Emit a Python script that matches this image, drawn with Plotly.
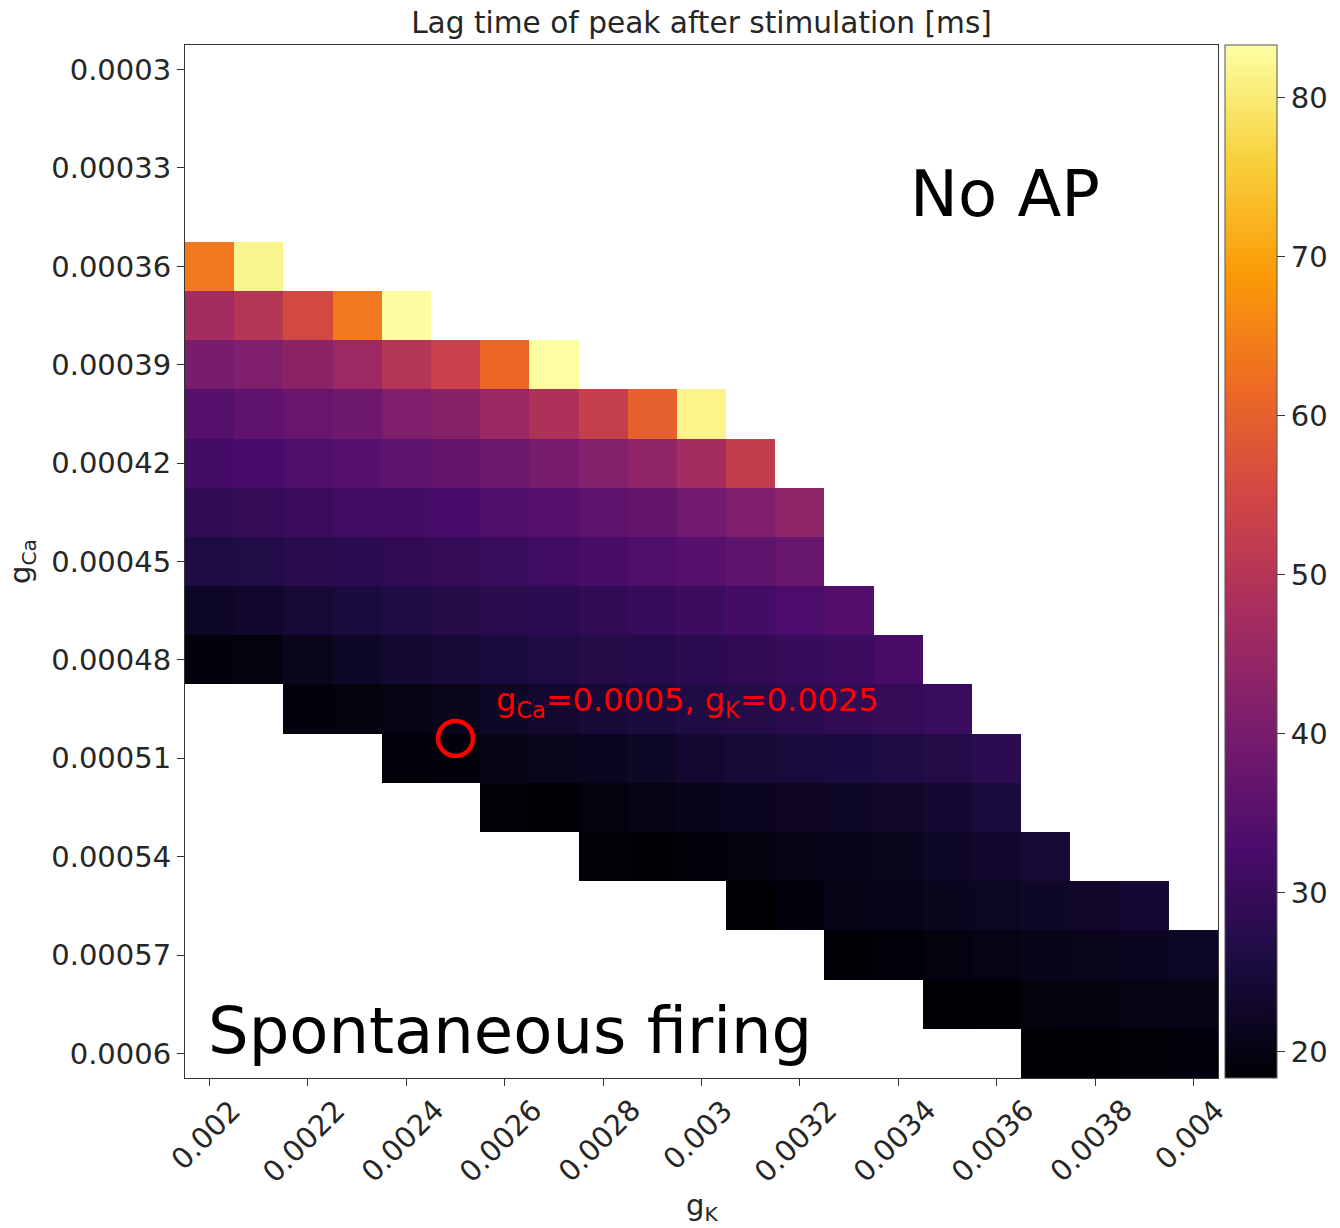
import plotly.graph_objects as go

# ---- data ----
g_K = [0.0020, 0.0021, 0.0022, 0.0023, 0.0024, 0.0025, 0.0026, 0.0027, 0.0028, 0.0029,
       0.0030, 0.0031, 0.0032, 0.0033, 0.0034, 0.0035, 0.0036, 0.0037, 0.0038, 0.0039, 0.0040]
g_Ca = [0.0003, 0.000315, 0.00033, 0.000345, 0.00036, 0.000375, 0.00039, 0.000405,
        0.00042, 0.000435, 0.00045, 0.000465, 0.00048, 0.000495, 0.00051, 0.000525,
        0.00054, 0.000555, 0.00057, 0.000585, 0.0006]

N = None
lag_ms = [
    [N] * 21,
    [N] * 21,
    [N] * 21,
    [N] * 21,
    [63.8, 81.7] + [N] * 19,
    [47.2, 50.1, 55.5, 63.8, 83.0] + [N] * 16,
    [40.0, 41.3, 43.2, 45.7, 50.0, 53.4, 61.3, 83.1] + [N] * 13,
    [34.5, 36.1, 37.4, 38.6, 41.2, 42.6, 45.1, 48.8, 52.9, 60.0, 81.5] + [N] * 10,
    [31.9, 32.8, 33.7, 34.8, 35.8, 36.7, 38.1, 39.9, 41.6, 43.7, 47.0, 52.2] + [N] * 9,
    [28.9, 29.6, 30.5, 31.3, 32.0, 32.8, 33.7, 34.6, 35.8, 37.0, 39.1, 41.2, 43.4] + [N] * 8,
    [26.1, 26.7, 27.5, 28.2, 28.9, 29.7, 30.3, 31.3, 32.4, 33.5, 34.8, 35.9, 37.2] + [N] * 8,
    [22.2, 23.2, 24.3, 25.2, 26.2, 26.8, 27.5, 28.1, 28.9, 29.8, 30.7, 31.9, 32.9, 34.2] + [N] * 7,
    [19.2, 19.4, 21.1, 22.4, 23.5, 24.6, 25.3, 26.2, 26.8, 27.4, 28.2, 29.0, 29.9, 30.7, 32.2] + [N] * 6,
    [N, N, 19.2, 19.3, 20.0, 21.1, 22.4, 23.5, 24.6, 25.3, 26.3, 27.0, 27.9, 28.9, 29.7, 30.4] + [N] * 5,
    [N] * 4 + [18.9, 19.2, 20.4, 21.1, 21.6, 22.4, 23.5, 24.3, 24.9, 25.4, 26.0, 27.0, 28.2] + [N] * 4,
    [N] * 6 + [18.8, 18.6, 19.7, 20.2, 20.9, 21.5, 22.0, 22.4, 22.9, 23.9, 24.9] + [N] * 4,
    [N] * 8 + [18.8, 18.6, 18.9, 19.5, 20.4, 20.9, 21.4, 22.2, 23.2, 24.5] + [N] * 3,
    [N] * 11 + [18.4, 19.2, 20.3, 20.8, 21.3, 21.8, 22.4, 23.0, 23.8] + [N] * 1,
    [N] * 13 + [18.6, 18.9, 19.6, 20.3, 20.7, 21.1, 21.5, 22.2],
    [N] * 15 + [18.4, 18.5, 19.3, 19.6, 20.1, 20.5],
    [N] * 17 + [18.4, 18.4, 18.8, 19.2],
]

x_tick_vals = [0.002, 0.0022, 0.0024, 0.0026, 0.0028, 0.003, 0.0032, 0.0034, 0.0036, 0.0038, 0.004]
x_tick_text = ["0.002", "0.0022", "0.0024", "0.0026", "0.0028", "0.003",
               "0.0032", "0.0034", "0.0036", "0.0038", "0.004"]
y_tick_vals = [0.0003, 0.00033, 0.00036, 0.00039, 0.00042, 0.00045, 0.00048,
               0.00051, 0.00054, 0.00057, 0.0006]
y_tick_text = ["0.0003", "0.00033", "0.00036", "0.00039", "0.00042", "0.00045",
               "0.00048", "0.00051", "0.00054", "0.00057", "0.0006"]
cbar_ticks = [20, 30, 40, 50, 60, 70, 80]

# highlighted parameter point (position)
mark_gK = [0.0025]
mark_gCa = [0.000504]

FONT = "DejaVu Sans"
TXT = "#262626"
TICK_SIZE = 29

fig = go.Figure()
fig.add_trace(go.Heatmap(
    x=g_K, y=g_Ca, z=lag_ms,
    colorscale="Inferno", zmin=18.35, zmax=83.3,
    hoverongaps=False,
    colorbar=dict(
        x=1.0068, xanchor="left", xpad=0, ypad=0,
        y=0.5, yanchor="middle", len=1, lenmode="fraction",
        thickness=52, thicknessmode="pixels",
        outlinewidth=1, outlinecolor="#555555",
        tickvals=cbar_ticks, ticks="outside", ticklen=8, tickwidth=1, tickcolor="#333333",
        tickfont=dict(family=FONT, size=TICK_SIZE, color=TXT),
    ),
))

fig.add_trace(go.Scatter(
    x=mark_gK, y=mark_gCa, mode="markers",
    marker=dict(symbol="circle-open", size=35, color="red", line=dict(width=4.5, color="red")),
    showlegend=False, hoverinfo="skip",
))

fig.update_layout(
    width=1340, height=1228,
    margin=dict(l=185, r=122, t=45, b=150, autoexpand=False),
    paper_bgcolor="white", plot_bgcolor="white",
    showlegend=False,
    title=dict(text="Lag time of peak after stimulation [ms]",
               font=dict(family=FONT, size=29.6, color=TXT),
               x=0.5, xref="paper", xanchor="center",
               y=1 - 23 / 1228, yref="container", yanchor="middle"),
    font=dict(family=FONT, color=TXT),
)

fig.update_xaxes(
    range=[0.00195, 0.00405], tickvals=x_tick_vals, showticklabels=False,
    ticks="outside", ticklen=7, tickwidth=1, tickcolor="#333333",
    showline=True, linecolor="#333333", linewidth=1, mirror=True,
    showgrid=False, zeroline=False,
)
fig.update_yaxes(
    range=[0.0006075, 0.0002925], tickvals=y_tick_vals, ticktext=y_tick_text,
    tickfont=dict(family=FONT, size=TICK_SIZE, color=TXT),
    ticks="outside", ticklen=7, tickwidth=1, tickcolor="#333333",
    showline=True, linecolor="#333333", linewidth=1, mirror=True,
    showgrid=False, zeroline=False,
    title=dict(text="g<sub>Ca</sub>", font=dict(family=FONT, size=29, color=TXT), standoff=12),
)

def px_x(px):
    return (px - 185) / 1033

def px_y(py):
    return (1078 - py) / 1033

# rotated x tick labels, centred under their ticks (matplotlib style)
for v, t in zip(x_tick_vals, x_tick_text):
    fig.add_annotation(text=t, x=v, xref="x", y=px_y(1092), yref="paper",
                       xanchor="center", yanchor="top", textangle=-45, showarrow=False,
                       xshift=-4, borderpad=0, font=dict(family=FONT, size=TICK_SIZE, color=TXT))

# x axis title
fig.add_annotation(text="g<sub>K</sub>", xref="paper", yref="paper", x=0.5, y=px_y(1207),
                   xanchor="center", yanchor="middle", showarrow=False,
                   font=dict(family=FONT, size=29, color=TXT))

fig.add_annotation(text="No AP", xref="paper", yref="paper", x=px_x(908), y=px_y(194),
                   xanchor="left", yanchor="middle", showarrow=False,
                   font=dict(family=FONT, size=64, color="black"))
fig.add_annotation(text="Spontaneous firing", xref="paper", yref="paper", x=px_x(206), y=px_y(1031),
                   xanchor="left", yanchor="middle", showarrow=False,
                   font=dict(family=FONT, size=64, color="black"))
fig.add_annotation(text="g<sub>Ca</sub>=0.0005, g<sub>K</sub>=0.0025", xref="paper", yref="paper",
                   x=px_x(494), y=px_y(702),
                   xanchor="left", yanchor="middle", showarrow=False,
                   font=dict(family=FONT, size=32, color="red"))

fig.write_html("out.html")
